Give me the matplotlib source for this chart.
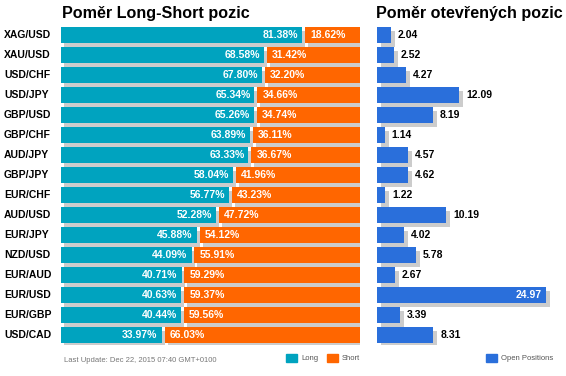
import matplotlib
matplotlib.use("Agg")
import matplotlib.pyplot as plt
from matplotlib.patches import Patch
import matplotlib.transforms as mtransforms

plt.rcParams['font.family'] = ['Liberation Sans', 'DejaVu Sans']

# Data
pairs = ["XAG/USD", "XAU/USD", "USD/CHF", "USD/JPY", "GBP/USD", "GBP/CHF", "AUD/JPY", "GBP/JPY",
         "EUR/CHF", "AUD/USD", "EUR/JPY", "NZD/USD", "EUR/AUD", "EUR/USD", "EUR/GBP", "USD/CAD"]
long_pct = [81.38, 68.58, 67.80, 65.34, 65.26, 63.89, 63.33, 58.04,
            56.77, 52.28, 45.88, 44.09, 40.71, 40.63, 40.44, 33.97]
short_pct = [18.62, 31.42, 32.20, 34.66, 34.74, 36.11, 36.67, 41.96,
             43.23, 47.72, 54.12, 55.91, 59.29, 59.37, 59.56, 66.03]
open_pos = [2.04, 2.52, 4.27, 12.09, 8.19, 1.14, 4.57, 4.62,
            1.22, 10.19, 4.02, 5.78, 2.67, 24.97, 3.39, 8.31]

c_long = "#00a3bf"
c_short = "#ff6600"
c_open = "#2a6fdb"
c_shadow = "#cccccc"

W, H = 566, 376
fig = plt.figure(figsize=(W / 100, H / 100), dpi=100)

top_px, bot_px = 25, 345
ax1 = fig.add_axes([61 / W, 1 - bot_px / H, 299 / W, (bot_px - top_px) / H])
ax2 = fig.add_axes([377 / W, 1 - bot_px / H, 183 / W, (bot_px - top_px) / H])

gap = 1.0
n = len(pairs)
ys = list(range(n))
bh = 0.8

# drop shadows: same bars shifted a few pixels right/down
shadow1 = ax1.transData + mtransforms.ScaledTranslation(3 / 100, -4 / 100, fig.dpi_scale_trans)
shadow2 = ax2.transData + mtransforms.ScaledTranslation(4 / 100, -4 / 100, fig.dpi_scale_trans)

short_left = [l + gap for l in long_pct]
ax1.barh(ys, long_pct, height=bh, color=c_shadow, transform=shadow1, zorder=1)
ax1.barh(ys, short_pct, left=short_left, height=bh, color=c_shadow, transform=shadow1, zorder=1)
ax1.barh(ys, long_pct, height=bh, color=c_long, zorder=2)
ax1.barh(ys, short_pct, left=short_left, height=bh, color=c_short, zorder=2)
ax1.set_xlim(0, 100 + gap)
ax1.set_ylim(n - 0.5, -0.5)

for y, l, s, sl in zip(ys, long_pct, short_pct, short_left):
    ax1.annotate(f"{l:.2f}%", (l, y), xytext=(-4, 0), textcoords="offset pixels",
                 ha="right", va="center", color="white", fontsize=7.5, fontweight="bold", zorder=3)
    ax1.annotate(f"{s:.2f}%", (sl, y), xytext=(5, 0), textcoords="offset pixels",
                 ha="left", va="center", color="white", fontsize=7.5, fontweight="bold", zorder=3)

lab_tr = mtransforms.blended_transform_factory(fig.transFigure, ax1.transData)
for y, p in zip(ys, pairs):
    ax1.text(4 / W, y, p, transform=lab_tr, ha="left", va="center",
             fontsize=7.5, fontweight="bold", color="black")

ax2.barh(ys, open_pos, height=bh, color=c_shadow, transform=shadow2, zorder=1)
ax2.barh(ys, open_pos, height=bh, color=c_open, zorder=2)
ax2.set_xlim(0, 27)
ax2.set_ylim(n - 0.5, -0.5)
for y, v in zip(ys, open_pos):
    if v > 20:
        ax2.annotate(f"{v:.2f}", (v, y), xytext=(-4, 0), textcoords="offset pixels",
                     ha="right", va="center", color="white", fontsize=7.5, fontweight="bold", zorder=3)
    else:
        ax2.annotate(f"{v:.2f}", (v, y), xytext=(7, 0), textcoords="offset pixels",
                     ha="left", va="center", color="black", fontsize=7.5, fontweight="bold", zorder=3)

for ax in (ax1, ax2):
    ax.axis("off")

fig.text(62 / W, 1 - 18 / H, "Poměr Long-Short pozic", ha="left", va="baseline",
         fontsize=11.6, fontweight="bold")
fig.text(376 / W, 1 - 18 / H, "Poměr otevřených pozic", ha="left", va="baseline",
         fontsize=11.6, fontweight="bold")

fig.text(64 / W, 1 - 360 / H, "Last Update: Dec 22, 2015 07:40 GMT+0100", ha="left", va="center",
         fontsize=5.5, color="#777777")

leg_kw = dict(frameon=False, fontsize=5.5, handlelength=1.45, handleheight=1.2,
              handletextpad=0.5, columnspacing=1.2, borderpad=0, borderaxespad=0,
              labelcolor="#555555", loc="upper left", bbox_transform=fig.transFigure)
fig.legend(handles=[Patch(color=c_long, label="Long"), Patch(color=c_short, label="Short")],
           ncol=2, bbox_to_anchor=(286 / W, 1 - 354 / H), **leg_kw)
fig.legend(handles=[Patch(color=c_open, label="Open Positions")],
           bbox_to_anchor=(486 / W, 1 - 354 / H), **leg_kw)

fig.savefig("out.png", dpi=100)
